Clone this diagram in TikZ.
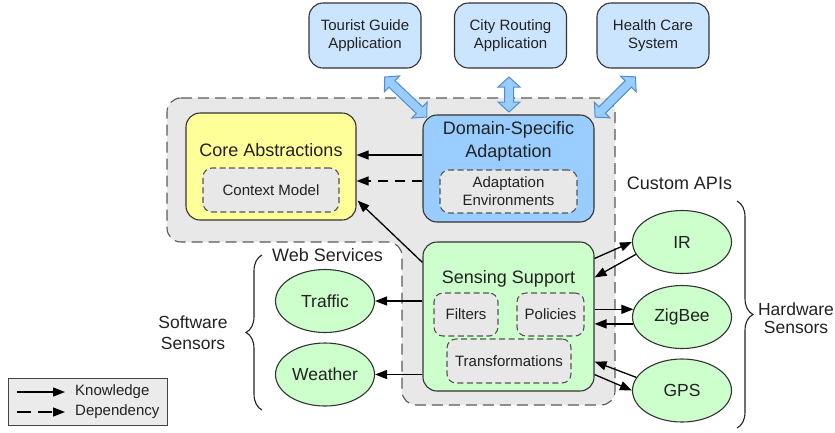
\documentclass[tikz,border=0pt]{standalone}
\usepackage{fontspec}
\setmainfont{Liberation Sans}
\usetikzlibrary{shapes.geometric,arrows.meta,calc,decorations.pathreplacing}
\definecolor{rfill}{HTML}{E8E8E8}
\definecolor{regb}{HTML}{5A5A5A}
\definecolor{bordc}{HTML}{333333}
\definecolor{subc}{HTML}{555555}
\definecolor{txt}{HTML}{222222}
\definecolor{yel}{HTML}{FFFF99}
\definecolor{blu}{HTML}{99CCFF}
\definecolor{appc}{HTML}{CCE5FF}
\definecolor{grn}{HTML}{CCFFCC}
\definecolor{arrf}{HTML}{99CCFF}
\definecolor{arrb}{HTML}{4F8FCF}
\definecolor{legf}{HTML}{EBEBEB}
\definecolor{legb}{HTML}{444444}
\tikzset{
  box/.style={draw=bordc, line width=1.1pt, rounded corners=14pt, inner sep=0pt, text=txt},
  app/.style={box, fill=appc, minimum width=112pt, minimum height=65pt, align=center, font=\fontsize{15}{18}\selectfont},
  sub/.style={draw=subc, dash pattern=on 6pt off 3.5pt, fill=rfill, rounded corners=9pt, line width=1.1pt, inner sep=0pt, align=center, text=txt, font=\fontsize{15}{18}\selectfont},
  ell/.style={ellipse, draw=bordc, fill=grn, minimum width=99pt, minimum height=63pt, inner sep=0pt, line width=1.1pt, text=txt, font=\fontsize{17.5}{20}\selectfont},
  lbl/.style={text=txt, inner sep=0pt, align=center, font=\fontsize{18}{21}\selectfont},
  know/.style={draw=black, line width=1.3pt, -{Triangle[length=12pt,width=9pt]}},
  dep/.style={know, dash pattern=on 10pt off 7pt},
  dblc/.style={draw=arrb, fill=arrf, line width=1pt, line join=miter},
  brc/.style={draw=txt, line width=1.1pt, decorate, decoration={brace, amplitude=16pt}}
}
% block double arrow of total length #1 centred at origin, along local x
\newcommand\mydblarrow[1]{%
  \path[dblc] ({-#1/2},0) -- ({-#1/2+10},11) -- ({-#1/2+10},4.5) -- ({#1/2-10},4.5) -- ({#1/2-10},11)
   -- ({#1/2},0) -- ({#1/2-10},-11) -- ({#1/2-10},-4.5) -- ({-#1/2+10},-4.5) -- ({-#1/2+10},-11) -- cycle;}
\begin{document}
\begin{tikzpicture}[x=1pt,y=-1pt]
\useasboundingbox (0,0) rectangle (835,432);
% grey region
\path[draw=regb, fill=rfill, line width=1.1pt, dash pattern=on 11pt off 6pt, rounded corners=14pt]
  (167,98) -- (615,98) -- (615,405) -- (402,405) -- (402,242) -- (167,242) -- cycle;
% apps
\node[app] (tour) at (365,35.5) {Tourist Guide\\Application};
\node[app] (city) at (510.5,35.5) {City Routing\\Application};
\node[app] (hlth) at (653,35.5) {Health Care\\System};
% core
\node[box, fill=yel, minimum width=170pt, minimum height=107pt] (core) at (271,166.5) {};
\node[lbl] (coret) at (271,150) {Core Abstractions};
\node[sub, minimum width=136pt, minimum height=44pt] (ctx) at (271,190) {Context Model};
% domain
\node[box, fill=blu, minimum width=171pt, minimum height=107pt] (dom) at (508.5,168.5) {};
\node[lbl, font=\fontsize{18}{23}\selectfont] (domt) at (508.5,141.5) {Domain-Specific\\Adaptation};
\node[sub, minimum width=137pt, minimum height=43pt] (adap) at (508.5,191.5) {Adaptation\\Environments};
% sensing
\node[box, fill=grn, minimum width=171pt, minimum height=149pt] (sens) at (508.5,316.5) {};
\node[lbl] (senst) at (508.5,279) {Sensing Support};
\node[sub, minimum width=64pt, minimum height=43pt] (filt) at (466,314.5) {Filters};
\node[sub, minimum width=67pt, minimum height=43pt] (pol) at (550.5,314.5) {Policies};
\node[sub, minimum width=124pt, minimum height=44pt] (trans) at (509,361) {Transformations};
% ellipses
\node[ell] (traf) at (325,301) {Traffic};
\node[ell] (weat) at (325,374.5) {Weather};
\node[ell] (ir) at (682,242) {IR};
\node[ell] (zig) at (682,317) {ZigBee};
\node[ell] (gps) at (682,390.5) {GPS};
% labels
\node[lbl] (web) at (327.5,255) {Web Services};
\node[lbl] (capi) at (679.5,183) {Custom APIs};
\node[lbl, font=\fontsize{17.5}{20.5}\selectfont] (sw) at (193,332.5) {Software\\Sensors};
\node[lbl, font=\fontsize{17.5}{18.5}\selectfont] (hw) at (796,318) {Hardware\\Sensors};
% braces
\draw[brc] (262,410) -- (262,255);
\draw[brc] (737,201) -- (737,428);
% domain -> core
\path ($(dom.west)+(0,-13.5)$) coordinate (k1) ($(dom.west)+(0,12.5)$) coordinate (k2);
\draw[know] (k1) -- (core.east |- k1);
\draw[dep] (k2) -- (core.east |- k2);
% sensing -> core
\draw[know] ($(sens.north west)+(0,21)$) -- ($(core.south east)+(1,-20)$);
% sensing -> web services
\draw[know] (sens.west |- traf.east) -- (traf.east);
\draw[know] (sens.west |- weat.east) -- (weat.east);
% hardware
\draw[know] ($(sens.north east)+(0,17)$) -- (ir.west);
\draw[know] (ir.195) -- ($(sens.north east)+(0,36)$);
\draw[know] (sens.east |- zig.171) -- (zig.171);
\draw[know] (zig.188) -- (sens.east |- zig.188);
\draw[know] (gps.164) -- ($(sens.south east)+(0,-30)$);
\draw[know] ($(sens.south east)+(0,-17)$) -- (gps.west);
% double arrows (apps <-> domain adaptation)
\path ($(tour.south)+(20,9)$) coordinate (ta) ($(dom.north west)+(4,2)$) coordinate (tb)
      ($(city.south)+(-1.5,9)$) coordinate (ca) ($(city.south |- dom.north)+(-1.5,-3)$) coordinate (cb)
      ($(hlth.south)+(-18,9)$) coordinate (ha) ($(dom.north east)+(1,2)$) coordinate (hb);
\begin{scope}[shift={($(ta)!0.5!(tb)$)}, rotate=-43.6]\mydblarrow{58}\end{scope}
\begin{scope}[shift={($(ca)!0.5!(cb)$)}, rotate=-90]\mydblarrow{35}\end{scope}
\begin{scope}[shift={($(ha)!0.5!(hb)$)}, rotate=-135]\mydblarrow{57}\end{scope}
% legend
\node[draw=legb, fill=legf, line width=1pt, minimum width=159pt, minimum height=47pt, inner sep=0pt] (leg) at (87.5,401.5) {};
\node[anchor=west, inner sep=0pt, text=txt, font=\fontsize{15}{18}\selectfont] (kn) at (75,392) {Knowledge};
\node[anchor=west, inner sep=0pt, text=txt, font=\fontsize{15}{18}\selectfont] (dp) at (75,412) {Dependency};
\draw[know] ($(kn.west)+(-58,0)$) -- ($(kn.west)+(-10,0)$);
\draw[know, dash pattern=on 14pt off 7pt] ($(dp.west)+(-58,0)$) -- ($(dp.west)+(-10,0)$);
\end{tikzpicture}
\end{document}
